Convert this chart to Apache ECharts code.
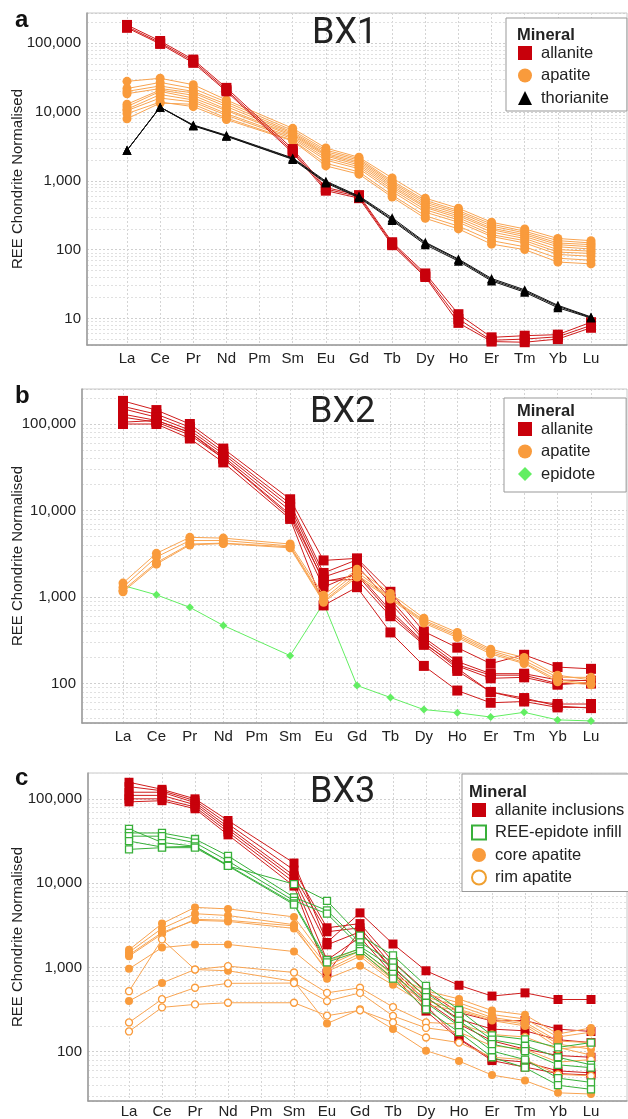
<!DOCTYPE html>
<html>
<head>
<meta charset="utf-8">
<script src="https://cdn.jsdelivr.net/npm/echarts@6/dist/echarts.min.js"></script>
<style>
  html, body { margin: 0; padding: 0; background: #fff; }
  #chart { width: 628px; height: 1119px; }
</style>
</head>
<body>
<div id="chart"></div>
<script>
// REE element order on the x axis (Pm has no data)
var elements = ['La', 'Ce', 'Pr', 'Nd', 'Pm', 'Sm', 'Eu', 'Gd', 'Tb', 'Dy', 'Ho', 'Er', 'Tm', 'Yb', 'Lu'];

// ---- BX1 ----
var bx1Apatite = [
  [28000, 31000, 25000, 15000, null, 5800, 3000, 2200, 1100, 560, 400, 250, 200, 145, 135],
  [22000, 27000, 22000, 14000, null, 5400, 2800, 2100, 1000, 520, 370, 235, 185, 135, 125],
  [20000, 24000, 20000, 13000, null, 5100, 2650, 2000, 950, 490, 350, 220, 175, 125, 118],
  [18500, 22000, 19000, 12000, null, 4900, 2500, 1900, 900, 460, 330, 205, 165, 118, 110],
  [13000, 21000, 17500, 11000, null, 4700, 2400, 1800, 850, 430, 310, 195, 155, 110, 102],
  [12000, 20000, 16000, 10500, null, 4500, 2300, 1700, 800, 410, 290, 180, 145, 100, 95],
  [11000, 18000, 15000, 9500, null, 4300, 2150, 1600, 750, 380, 270, 165, 135, 92, 88],
  [10500, 16000, 14000, 9000, null, 4100, 2000, 1500, 700, 350, 250, 155, 125, 85, 80],
  [8000, 13500, 13000, 8200, null, 3900, 1800, 1350, 620, 310, 220, 135, 110, 75, 70],
  [9500, 14000, 12000, 7800, null, 3800, 1650, 1250, 580, 285, 200, 120, 100, 66, 62]
];
var bx1Allanite = [
  [185000, 108000, 58000, 22500, null, 2900, 800, 620, 128, 45, 11.5, 5.3, 5.6, 5.8, 8.8],
  [175000, 102000, 55000, 21000, null, 2700, 760, 590, 122, 42, 9.8, 4.8, 5.0, 5.4, 7.9],
  [168000, 98000, 52000, 20000, null, 2550, 720, 560, 116, 40, 8.6, 4.6, 4.5, 5.0, 7.3]
];
var bx1Thorianite = [
  [2780, 11800, 6500, 4600, null, 2150, 990, 600, 290, 128, 73, 38, 26, 15.5, 10.5],
  [2780, 11800, 6400, 4500, null, 2100, 960, 585, 275, 124, 71, 36.5, 25, 15, 10.3],
  [2780, 11800, 6300, 4450, null, 2050, 930, 570, 265, 118, 68, 35, 24, 14.3, 10.1]
];

// ---- BX2 ----
var bx2Epidote = [
  [1360, 1060, 760, 470, null, 210, 850, 95, 69, 50, 46, 41, 46.5, 38, 37]
];
var bx2Allanite = [
  [185000, 145000, 100000, 52000, null, 13500, 2650, 2800, 1150, 400, 260, 170, 215, 155, 148],
  [160000, 130000, 92000, 48000, null, 12000, 1900, 2700, 950, 340, 180, 130, 130, 110, 108],
  [150000, 120000, 85000, 45000, null, 11000, 1700, 2300, 850, 320, 165, 125, 125, 100, 100],
  [130000, 110000, 80000, 42000, null, 10000, 1500, 1800, 650, 290, 160, 115, 118, 97, 103],
  [120000, 105000, 75000, 40000, null, 9000, 1550, 1600, 600, 280, 140, 80, 65, 58, 58],
  [100000, 100000, 68000, 36000, null, 8000, 800, 1300, 390, 160, 83, 60, 62, 53, 53],
  [105000, 110000, 80000, 40000, null, 8500, 1300, 1900, 700, 300, 150, 80, 68, 55, 52]
];
var bx2Apatite = [
  [1450, 3200, 4900, 4800, null, 4100, 1050, 2100, 1100, 570, 390, 250, 200, 125, 110],
  [1300, 2900, 4500, 4500, null, 3900, 950, 1950, 1000, 540, 370, 240, 185, 118, 118],
  [1200, 2500, 4100, 4200, null, 3800, 900, 1800, 980, 520, 355, 230, 175, 110, 100],
  [1150, 2400, 4000, 4150, null, 3700, 870, 1700, 950, 500, 340, 220, 170, 105, 97]
];

// ---- BX3 ----
var bx3Allanite = [
  [158000, 130000, 100000, 55000, null, 17000, 1900, 4300, 1820, 870, 583, 433, 473, 394, 394],
  [140000, 125000, 95000, 50000, null, 14000, 2850, 3200, 1120, 495, 275, 218, 221, 174, 163],
  [120000, 120000, 90000, 46000, null, 12000, 2550, 2850, 980, 420, 229, 174, 166, 130, 120],
  [110000, 110000, 85000, 43000, null, 11000, 1780, 2550, 900, 377, 200, 126, 100, 84, 80],
  [100000, 100000, 80000, 40000, null, 10000, 1170, 2200, 780, 286, 132, 73, 61, 51, 49],
  [92000, 95000, 76000, 37000, null, 9000, 815, 2600, 850, 330, 135, 76, 70, 55, 52]
];
var bx3CoreApatite = [
  [1550, 3200, 5000, 4800, null, 3850, 1130, 1600, 775, 500, 400, 290, 258, 152, 180],
  [1450, 2800, 4200, 4000, null, 3100, 1000, 1500, 720, 460, 360, 260, 230, 140, 160],
  [1350, 2500, 3500, 3400, null, 2800, 900, 1400, 680, 420, 330, 240, 210, 125, 120],
  [1300, 2400, 3600, 3500, null, 3000, 850, 1300, 640, 380, 300, 230, 200, 115, 100],
  [918, 1650, 1800, 1800, null, 1480, 700, 1000, 590, 340, 290, 220, 190, 105, 85],
  [377, 622, 900, 870, null, 650, 203, 300, 174, 96, 72, 49, 42, 30, 29]
];
var bx3RimApatite = [
  [495, 2070, 900, 990, null, 830, 473, 545, 320, 209, 200, 150, 140, 100, 110],
  [209, 397, 545, 615, null, 620, 377, 473, 250, 180, 160, 110, 100, 70, 75],
  [163, 317, 344, 360, null, 360, 252, 292, 209, 138, 120, 80, 75, 50, 48]
];
var bx3Infill = [
  [43700, 30000, 27000, 15700, null, 9500, 6000, 2300, 1330, 575, 295, 146, 131, 105, 120],
  [39000, 39000, 33000, 20700, null, 6600, 4600, 1900, 1100, 480, 250, 130, 110, 80, 65],
  [35700, 35700, 29800, 18000, null, 6000, 4200, 1700, 950, 420, 220, 115, 95, 65, 60],
  [31200, 26400, 27000, 16000, null, 5600, 1170, 1600, 800, 360, 190, 95, 75, 45, 40],
  [24800, 26000, 26000, 15700, null, 5400, 1100, 1500, 700, 300, 160, 80, 60, 37, 33]
];

// layout of the three panels
var frames = [
  { left: 87, top: 13, width: 540, height: 332 },
  { left: 82, top: 389, width: 545, height: 334 },
  { left: 88, top: 773, width: 539, height: 328 }
];
var inner = [
  { left: 127, top: 13, width: 464, height: 332 },
  { left: 123, top: 389, width: 468, height: 334 },
  { left: 129, top: 773, width: 462, height: 328 }
];
var yRange = [[4.1, 276000], [35, 254000], [26, 204000]];
var nameGaps = [62, 57, 63];

var FONT = 'Liberation Sans, Arial, sans-serif';
var RED = '#c8000b', RED_LINE = '#cf1c1c';
var ORANGE = '#f99b3c', ORANGE_LINE = '#f8a452';
var LIGHT_GREEN = '#62ee62', GREEN = '#38b03a';

function fmtTick(v) {
  var e = Math.log(v) / Math.LN10;
  if (Math.abs(e - Math.round(e)) > 1e-6) return '';
  return String(Math.round(v)).replace(/\B(?=(\d{3})+(?!\d))/g, ',');
}

// classic log minor grid values (2..9 x 10^k) inside each panel range
function minorValues(range) {
  var out = [];
  for (var k = 0; k <= 5; k++) {
    for (var m = 2; m <= 9; m++) {
      var v = m * Math.pow(10, k);
      if (v > range[0] && v < range[1]) out.push({ yAxis: v });
    }
  }
  return out;
}

var grid = [], xAxis = [], yAxis = [], series = [];
for (var p = 0; p < 3; p++) {
  grid.push({ left: frames[p].left, top: frames[p].top, width: frames[p].width, height: frames[p].height,
    show: true, borderColor: '#c8c8c8', borderWidth: 1 });
  grid.push({ left: inner[p].left, top: inner[p].top, width: inner[p].width, height: inner[p].height });

  xAxis.push({ gridIndex: 2 * p, type: 'value', min: 0, max: 1,
    axisLine: { show: true, lineStyle: { color: '#9a9a9a', width: 1.5 } },
    axisTick: { show: false }, axisLabel: { show: false }, splitLine: { show: false } });
  xAxis.push({ gridIndex: 2 * p + 1, type: 'category', data: elements, boundaryGap: false,
    axisLine: { show: false }, axisTick: { show: false },
    axisLabel: { margin: 6, fontSize: 15, color: '#222', fontFamily: FONT, interval: 0 },
    splitLine: { show: true, lineStyle: { color: '#d4d4d4', type: [2, 2], width: 1 } } });

  yAxis.push({ gridIndex: 2 * p, type: 'log', logBase: 10, min: yRange[p][0], max: yRange[p][1],
    name: 'REE Chondrite Normalised', nameLocation: 'middle', nameGap: nameGaps[p], nameMoveOverlap: false,
    nameTextStyle: { fontSize: 15, color: '#222', fontFamily: FONT },
    axisLine: { show: true, lineStyle: { color: '#9a9a9a', width: 1.5 } },
    axisTick: { show: false },
    axisLabel: { formatter: fmtTick, fontSize: 15, color: '#222', fontFamily: FONT, margin: 6,
      showMinLabel: false, showMaxLabel: false },
    splitLine: { show: true, lineStyle: { color: '#cfcfcf', type: [2, 2], width: 1 } } });
  yAxis.push({ gridIndex: 2 * p + 1, type: 'log', logBase: 10, min: yRange[p][0], max: yRange[p][1], show: false });

  // minor horizontal grid lines
  series.push({ type: 'line', data: [], xAxisIndex: 2 * p, yAxisIndex: 2 * p, silent: true, z: 0,
    markLine: { silent: true, z: 0, symbol: 'none', label: { show: false }, animation: false,
      lineStyle: { color: '#e0e0e0', type: [2, 2], width: 1 }, data: minorValues(yRange[p]) } });
}

function mk(rows, name, p, o) {
  return rows.map(function (r) {
    return {
      type: 'line', name: name, data: r, xAxisIndex: 2 * p + 1, yAxisIndex: 2 * p + 1,
      connectNulls: true, symbol: o.symbol, symbolSize: o.size, z: o.z || 2,
      itemStyle: o.item, lineStyle: { color: o.line, width: o.width || 1 },
      emphasis: { disabled: true }, silent: true
    };
  });
}

series = series
  .concat(mk(bx1Apatite, 'apatite', 0, { symbol: 'circle', size: 9, item: { color: ORANGE }, line: ORANGE_LINE, z: 2 }))
  .concat(mk(bx1Allanite, 'allanite', 0, { symbol: 'rect', size: 10, item: { color: RED }, line: RED_LINE, z: 3 }))
  .concat(mk(bx1Thorianite, 'thorianite', 0, { symbol: 'triangle', size: 9, item: { color: '#000' }, line: '#111', z: 4 }))
  .concat(mk(bx2Epidote, 'epidote', 1, { symbol: 'diamond', size: 8, item: { color: LIGHT_GREEN }, line: LIGHT_GREEN, z: 2 }))
  .concat(mk(bx2Allanite, 'allanite', 1, { symbol: 'rect', size: 10, item: { color: RED }, line: RED_LINE, z: 3 }))
  .concat(mk(bx2Apatite, 'apatite', 1, { symbol: 'circle', size: 9, item: { color: ORANGE }, line: ORANGE_LINE, z: 4 }))
  .concat(mk(bx3Allanite, 'allanite inclusions', 2, { symbol: 'rect', size: 9, item: { color: RED }, line: RED_LINE, z: 2 }))
  .concat(mk(bx3CoreApatite, 'core apatite', 2, { symbol: 'circle', size: 8, item: { color: ORANGE }, line: ORANGE_LINE, z: 3 }))
  .concat(mk(bx3RimApatite, 'rim apatite', 2, { symbol: 'circle', size: 7, item: { color: '#fff', borderColor: ORANGE, borderWidth: 1.3 }, line: ORANGE_LINE, z: 3 }))
  .concat(mk(bx3Infill, 'REE-epidote infill', 2, { symbol: 'rect', size: 7, item: { color: '#fff', borderColor: GREEN, borderWidth: 1.3 }, line: GREEN, z: 4 }));

var legendBase = {
  orient: 'vertical', itemWidth: 14, itemHeight: 14, itemGap: 5.5, selectedMode: false, z: 20,
  backgroundColor: '#fff', borderColor: '#999', borderWidth: 1, borderRadius: 0,
  textStyle: { fontSize: 16.5, color: '#222', fontFamily: FONT, padding: [0, 0, 0, 4] }
};
function legend(extra) { return Object.assign({}, legendBase, extra); }

var option = {
  animation: false,
  grid: grid, xAxis: xAxis, yAxis: yAxis, series: series,
  legend: [
    legend({ left: 506, top: 18, padding: [26.5, 18, 4.5, 12],
      data: [{ name: 'allanite', icon: 'rect' }, { name: 'apatite', icon: 'circle' }, { name: 'thorianite', icon: 'triangle' }] }),
    legend({ left: 504, top: 398, padding: [22.5, 31, 9.5, 14],
      data: [{ name: 'allanite', icon: 'rect' }, { name: 'apatite', icon: 'circle' }, { name: 'epidote', icon: 'diamond' }] }),
    legend({ left: 462, top: 774, padding: [27.5, 5, 5.5, 9],
      data: [{ name: 'allanite inclusions', icon: 'rect' },
             { name: 'REE-epidote infill', icon: 'rect', itemStyle: { color: '#fff', borderColor: GREEN, borderWidth: 2 } },
             { name: 'core apatite', icon: 'circle' },
             { name: 'rim apatite', icon: 'circle', itemStyle: { color: '#fff', borderColor: '#f0a030', borderWidth: 2 } }] })
  ],
  graphic: [
    { type: 'text', z: 100, style: { text: 'a', x: 15, y: 20, font: 'bold 24px ' + FONT, fill: '#111', verticalAlign: 'middle' } },
    { type: 'text', z: 100, style: { text: 'b', x: 15, y: 396, font: 'bold 24px ' + FONT, fill: '#111', verticalAlign: 'middle' } },
    { type: 'text', z: 100, style: { text: 'c', x: 15, y: 778, font: 'bold 24px ' + FONT, fill: '#111', verticalAlign: 'middle' } },
    { type: 'text', z: 100, style: { text: 'BX1', x: 312, y: 34, font: '36px Roboto', fill: '#222', verticalAlign: 'middle' } },
    { type: 'text', z: 100, style: { text: 'BX2', x: 310, y: 413, font: '36px Roboto', fill: '#222', verticalAlign: 'middle' } },
    { type: 'text', z: 100, style: { text: 'BX3', x: 310, y: 793, font: '36px Roboto', fill: '#222', verticalAlign: 'middle' } },
    { type: 'text', z: 100, style: { text: 'Mineral', x: 517, y: 35, font: 'bold 16.5px ' + FONT, fill: '#222', verticalAlign: 'middle' } },
    { type: 'text', z: 100, style: { text: 'Mineral', x: 517, y: 411, font: 'bold 16.5px ' + FONT, fill: '#222', verticalAlign: 'middle' } },
    { type: 'text', z: 100, style: { text: 'Mineral', x: 469, y: 792, font: 'bold 16.5px ' + FONT, fill: '#222', verticalAlign: 'middle' } }
  ]
};

var chart = echarts.init(document.getElementById('chart'), null, { renderer: 'canvas' });
chart.setOption(option);
</script>
</body>
</html>
